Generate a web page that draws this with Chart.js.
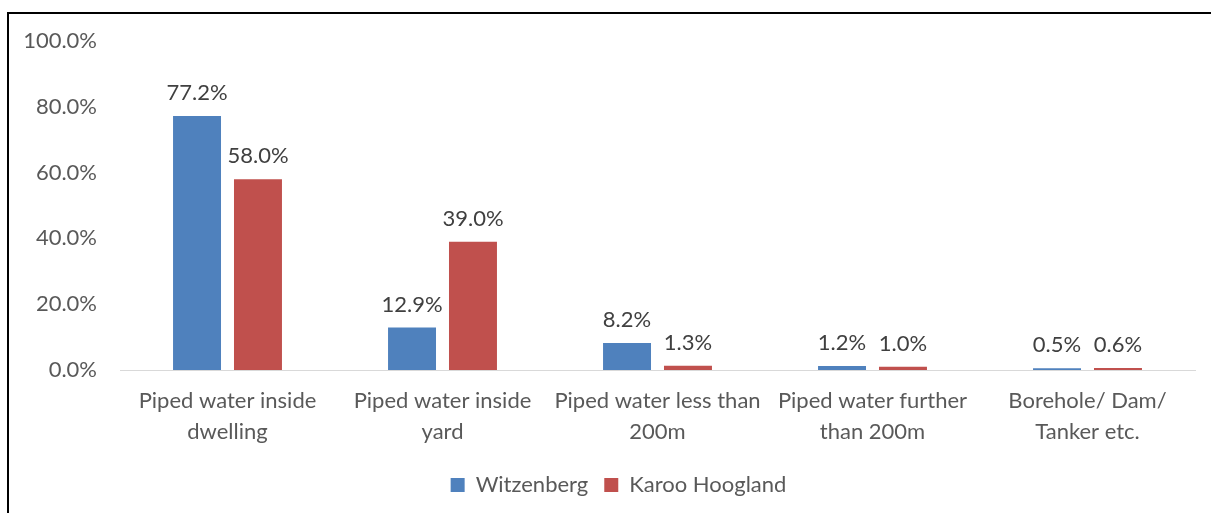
<!DOCTYPE html>
<html>
<head>
<meta charset="utf-8">
<script src="https://cdn.jsdelivr.net/npm/chart.js@4.4.0/dist/chart.umd.min.js"></script>
<style>
  html, body { margin: 0; padding: 0; background: #fff; overflow: hidden; }
  #frame {
    position: absolute; left: 7px; top: 12px; width: 1300px; height: 600px;
    border-top: 2px solid #000; border-left: 2px solid #000;
  }
  #wrap { position: absolute; left: 0; top: 0; width: 1211px; height: 513px; }
</style>
</head>
<body>
<div id="frame"></div>
<div id="wrap"><canvas id="chart"></canvas></div>
<script>
// chart data
const categories = [
  ['Piped water inside', 'dwelling'],
  ['Piped water inside', 'yard'],
  ['Piped water less than', '200m'],
  ['Piped water further', 'than 200m'],
  ['Borehole/ Dam/', 'Tanker etc.']
];
const witzenberg = [77.2, 12.9, 8.2, 1.2, 0.5];
const karooHoogland = [58.0, 39.0, 1.3, 1.0, 0.6];
const yTicks = [0, 20, 40, 60, 80, 100];

const FONT = 'Lato, "Open Sans", sans-serif';
Chart.defaults.font.family = FONT;
Chart.defaults.color = '#595959';

// value labels above each bar
const barLabels = {
  id: 'barLabels',
  afterDatasetsDraw(chart) {
    const ctx = chart.ctx;
    ctx.save();
    ctx.font = '22px ' + FONT;
    ctx.fillStyle = '#404040';
    ctx.textAlign = 'center';
    ctx.textBaseline = 'middle';
    chart.data.datasets.forEach((ds, i) => {
      chart.getDatasetMeta(i).data.forEach((bar, j) => {
        ctx.fillText(ds.data[j].toFixed(1) + '%', bar.x, bar.y - 23);
      });
    });
    ctx.restore();
  }
};

// legend sits a little right of centre in the original
const legendShift = {
  id: 'legendShift',
  afterLayout(chart) {
    const lg = chart.legend;
    if (!lg) return;
    lg.left += 21; lg.right += 21;
    lg.top -= 2; lg.bottom -= 2;
  }
};

new Chart(document.getElementById('chart'), {
  type: 'bar',
  data: {
    labels: categories,
    datasets: [
      { label: 'Witzenberg', data: witzenberg, backgroundColor: '#4F81BD' },
      { label: 'Karoo Hoogland', data: karooHoogland, backgroundColor: '#C0504D' }
    ]
  },
  options: {
    responsive: true,
    maintainAspectRatio: false,
    animation: false,
    categoryPercentage: 0.567,
    barPercentage: 0.787,
    layout: { padding: { top: 41, right: 16, bottom: 5, left: 0 } },
    plugins: {
      tooltip: { enabled: false },
      legend: {
        position: 'bottom',
        labels: {
          boxWidth: 14, boxHeight: 14, padding: 16,
          color: '#595959',
          font: { size: 22 }
        }
      }
    },
    scales: {
      x: {
        grid: { display: false, drawTicks: false },
        border: { display: true, color: '#D9D9D9', width: 1 },
        ticks: { padding: 16, maxRotation: 0, autoSkip: false, font: { size: 22, lineHeight: 1.4 } },
        afterFit: (s) => { s.height = 90; }
      },
      y: {
        min: 0, max: 100,
        grid: { display: false, drawTicks: false },
        border: { display: false },
        afterBuildTicks: (s) => { s.ticks = yTicks.map(v => ({ value: v })); },
        ticks: {
          padding: 23,
          font: { size: 22 },
          callback: (v) => v.toFixed(1) + '%'
        },
        afterFit: (s) => { s.width = 120; }
      }
    }
  },
  plugins: [barLabels, legendShift]
});
</script>
</body>
</html>
